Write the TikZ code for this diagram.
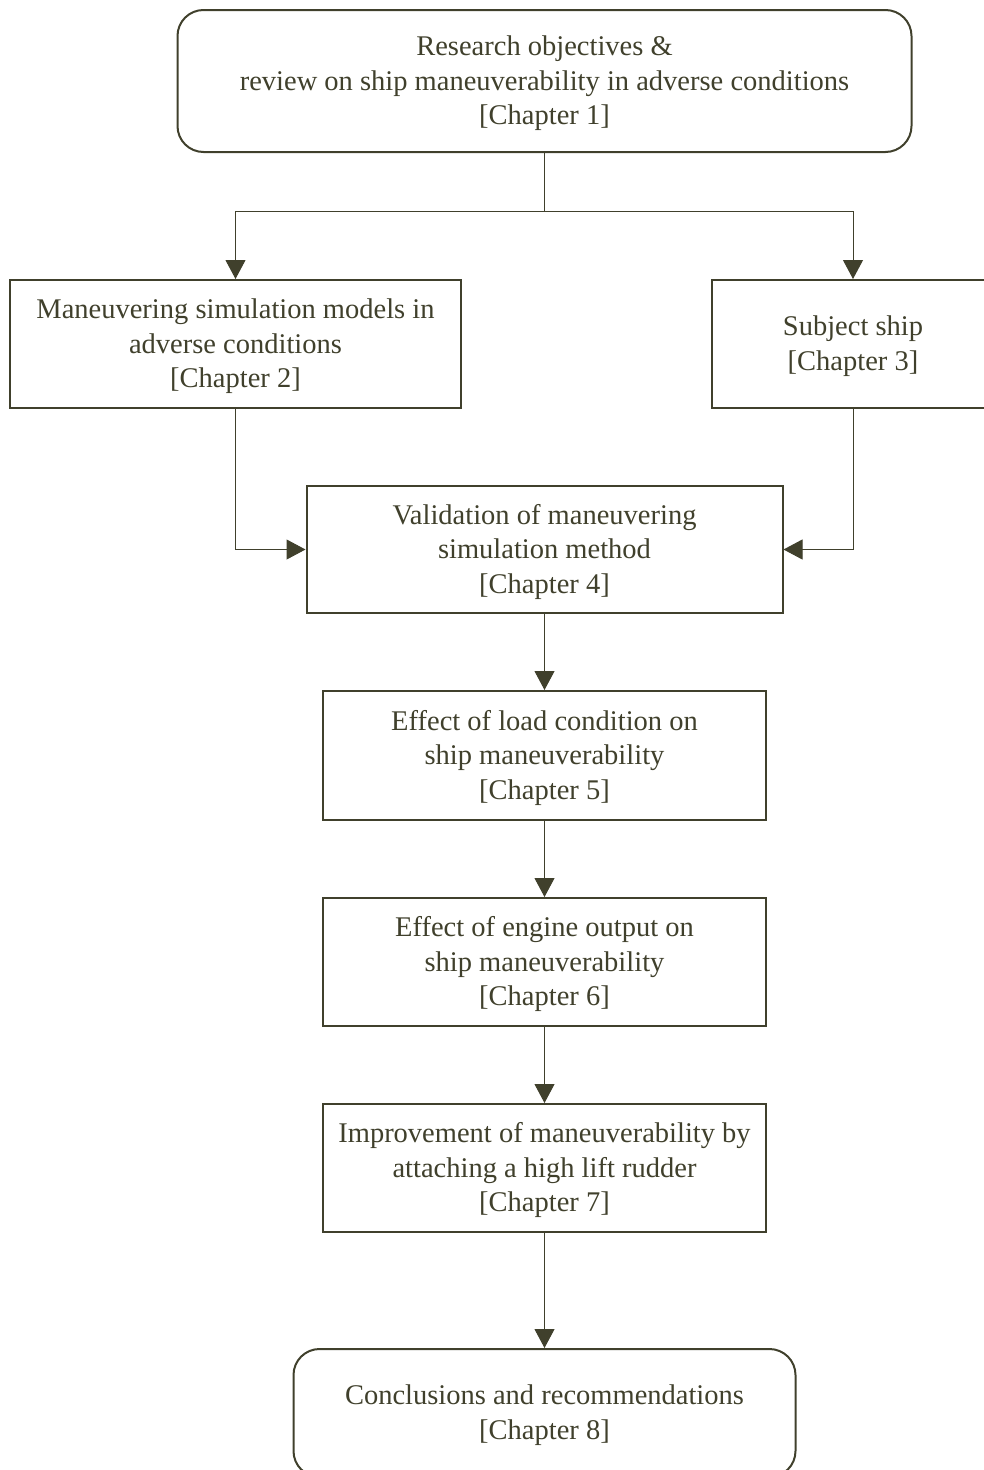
\documentclass[tikz,border=0pt]{standalone}
\usepackage{fontspec}
\setmainfont{Liberation Serif}
\usetikzlibrary{arrows.meta}
\definecolor{ink}{RGB}{64,64,44}
\newcommand\topstrutx{\rule{0pt}{24.5pt}}
\begin{document}
\begin{tikzpicture}[x=1pt,y=-1pt,
  box/.style={draw=ink, line width=2pt, text=ink, align=center, inner sep=0pt,
    font=\fontsize{28.5}{34.5}\selectfont},
  rbox/.style={box, rounded corners=26pt},
  arr/.style={draw=ink, line width=1pt, -{Triangle[length=19pt,width=20pt]}}]
\useasboundingbox (0,0) rectangle (984,1470);
\node[rbox, minimum width=734pt, minimum height=142pt] (b1) at (544.5,81)
  {\topstrutx Research objectives \&\\review on ship maneuverability in adverse conditions\\{}[Chapter 1]};
\node[box, minimum width=451pt, minimum height=128pt] (b2) at (235.5,344)
  {\topstrutx Maneuvering simulation models in\\adverse conditions\\{}[Chapter 2]};
\node[box, minimum width=282pt, minimum height=128pt] (b3) at (853,344)
  {\topstrutx Subject ship\\{}[Chapter 3]};
\node[box, minimum width=476pt, minimum height=127pt] (b4) at (544.5,549.5)
  {\topstrutx Validation of maneuvering\\simulation method\\{}[Chapter 4]};
\node[box, minimum width=443pt, minimum height=129pt] (b5) at (544.5,755.5)
  {\topstrutx Effect of load condition on\\ship maneuverability\\{}[Chapter 5]};
\node[box, minimum width=443pt, minimum height=128pt] (b6) at (544.5,962)
  {\topstrutx Effect of engine output on\\ship maneuverability\\{}[Chapter 6]};
\node[box, minimum width=443pt, minimum height=128pt] (b7) at (544.5,1168)
  {\topstrutx Improvement of maneuverability by\\attaching a high lift rudder\\{}[Chapter 7]};
\node[rbox, minimum width=502pt, minimum height=128pt] (b8) at (544.5,1413)
  {\topstrutx Conclusions and recommendations\\{}[Chapter 8]};
\coordinate (j) at (544.5,211);
\draw[arr] (b1.south) -- (j) -| (b2.north);
\draw[arr] (j) -| (b3.north);
\draw[arr] (b2.south) |- (b4.west);
\draw[arr] (b3.south) |- (b4.east);
\draw[arr] (b4.south) -- (b5.north);
\draw[arr] (b5.south) -- (b6.north);
\draw[arr] (b6.south) -- (b7.north);
\draw[arr] (b7.south) -- (b8.north);
\end{tikzpicture}
\end{document}
